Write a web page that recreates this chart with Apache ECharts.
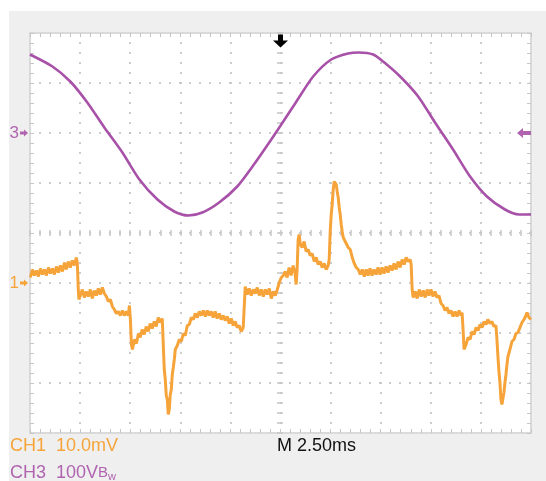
<!DOCTYPE html>
<html>
<head>
<meta charset="utf-8">
<script src="https://cdn.jsdelivr.net/npm/echarts@6/dist/echarts.min.js"></script>
<style>
  html, body { margin: 0; padding: 0; background: #ffffff; }
  #bg { position: absolute; left: 9px; top: 11px; width: 537px; height: 470px; background: #efefef; }
  #chart { position: absolute; left: 0; top: 0; width: 546px; height: 481px; }
</style>
</head>
<body>
<div id="bg"></div>
<div id="chart"></div>
<script>
// Time axis: 0..25 ms (2.50 ms/div, 10 divisions), trigger at 12.5 ms
const timeRange = [0, 25];
const timePerDiv = 2.5;
// CH3 (line voltage, 100 V/div), ground marker "3"
const ch3Range = [-600, 200];
const ch3PerDiv = 100;
// CH1 (10.0 mV/div), ground marker "1"
const ch1Range = [-30, 50];
const ch1PerDiv = 10;

// CH3 samples: [time ms, volts]
const ch3Samples = [
  [0, 157], [1.12, 133], [2.01, 103], [2.86, 61], [3.71, 11], [4.61, -39], [5.46, -93],
  [6.36, -133], [7.20, -157], [7.90, -165], [8.60, -159], [9.44, -139], [10.34, -107],
  [11.19, -62], [12.09, -10], [12.49, 14], [13.28, 62], [14.13, 113], [15.03, 147],
  [15.87, 159], [16.42, 161], [17.12, 157], [17.62, 143], [18.47, 113], [19.37, 73],
  [20.21, 21], [21.11, -33], [21.96, -87], [22.80, -127], [23.70, -153], [24.40, -163], [25.00, -163]
];

// CH1 samples: [time ms, millivolts]
const ch1Samples = [
  [0.02,1.1],[0.12,2.7],[0.22,1.5],[0.32,2.5],[0.42,1.3],[0.52,2.9],[0.62,1.7],[0.72,2.7],[0.82,1.5],[0.92,3.1],
  [1.02,1.9],[1.12,2.9],[1.22,1.7],[1.32,3.3],[1.42,2.1],[1.52,3.5],[1.62,2.3],[1.72,4.1],[1.81,2.7],[1.91,4.3],
  [2.01,3.1],[2.11,4.5],[2.21,3.5],[2.31,5.1],[2.36,4.1],[2.41,-1.3],[2.44,-3.3],
  [2.51,-2.5],[2.61,-1.3],[2.71,-2.9],[2.81,-1.7],[2.91,-2.7],[3.01,-1.3],[3.11,-3.1],[3.21,-1.5],[3.31,-2.5],
  [3.41,-1.1],[3.51,-2.3],[3.61,-0.9],[3.71,-2.1],[3.81,-2.7],[3.91,-3.7],[4.01,-3.3],[4.11,-4.7],[4.21,-5.3],
  [4.31,-6.1],[4.41,-5.7],[4.51,-6.5],[4.61,-5.5],[4.71,-6.5],[4.81,-5.7],[4.91,-6.5],[4.96,-4.5],[5.01,-7.3],
  [5.06,-12.3],[5.11,-13.3],
  [5.21,-11.3],[5.31,-12.1],[5.41,-10.1],[5.50,-10.9],[5.60,-9.3],[5.70,-10.3],[5.80,-8.7],[5.90,-9.7],[6.00,-8.1],
  [6.10,-9.1],[6.20,-7.7],[6.30,-8.7],[6.40,-6.9],[6.50,-7.9],[6.60,-7.1],[6.65,-12.3],[6.70,-17.3],[6.75,-19.3],
  [6.80,-22.5],[6.85,-23.3],[6.90,-26.3],[6.95,-25.3],[7.00,-22.3],[7.05,-21.3],[7.10,-18.3],[7.15,-16.9],
  [7.20,-15.3],[7.25,-13.3],[7.35,-12.5],[7.45,-11.3],[7.55,-11.7],[7.65,-10.1],[7.75,-10.5],[7.85,-8.5],
  [7.95,-8.3],[8.05,-6.9],[8.15,-7.3],[8.25,-6.1],[8.35,-6.9],[8.45,-5.7],[8.55,-6.5],[8.65,-5.5],[8.75,-6.7],
  [8.85,-5.5],[8.94,-6.5],[9.04,-5.7],[9.14,-6.9],[9.24,-5.7],[9.34,-7.1],[9.44,-6.1],[9.54,-7.3],[9.64,-6.5],
  [9.74,-7.5],[9.84,-6.7],[9.94,-8.1],[10.04,-7.1],[10.14,-8.5],[10.24,-7.7],[10.34,-8.9],[10.44,-8.5],
  [10.54,-9.7],[10.64,-8.9],[10.69,-9.3],[10.74,-0.7],
  [10.84,-2.3],[10.94,-1.1],[11.04,-2.5],[11.14,-1.3],[11.24,-2.1],[11.34,-0.9],[11.44,-2.5],[11.54,-1.3],
  [11.64,-2.7],[11.74,-1.3],[11.84,-2.3],[11.94,-1.1],[12.04,-3.1],[12.14,-1.7],[12.24,-2.5],[12.34,-1.3],
  [12.44,0.1],[12.54,1.1],[12.64,1.5],[12.73,2.3],[12.83,1.1],[12.93,3.1],[13.03,1.5],[13.13,3.5],[13.23,1.9],
  [13.28,-0.3],[13.33,2.7],[13.38,8.7],[13.43,9.7],[13.48,7.9],[13.58,7.1],[13.68,8.3],[13.78,6.3],[13.88,6.7],
  [13.98,5.5],[14.08,5.9],[14.18,4.3],[14.28,5.1],[14.38,3.7],[14.48,4.3],[14.58,3.1],[14.68,3.9],[14.78,2.7],
  [14.88,3.5],[14.93,4.7],[14.98,10.3],[15.03,13.7],[15.08,15.7],[15.13,18.7],[15.18,20.3],[15.23,20.7],
  [15.28,19.7],[15.33,18.3],[15.38,17.1],[15.43,15.1],[15.48,13.7],[15.53,11.7],[15.58,10.3],[15.63,9.1],
  [15.68,8.7],[15.78,7.9],[15.88,7.1],[15.98,6.7],[16.08,5.1],[16.18,3.9],[16.28,3.1],[16.38,2.7],[16.48,1.7],
  [16.58,2.7],[16.68,1.3],[16.78,2.7],[16.87,1.5],[16.97,2.9],[17.07,1.5],[17.17,2.7],[17.27,1.7],[17.37,3.1],
  [17.47,1.7],[17.57,3.1],[17.67,1.9],[17.77,3.3],[17.87,2.1],[17.97,3.5],[18.07,2.5],[18.17,3.9],[18.27,2.7],
  [18.37,4.3],[18.47,3.1],[18.57,4.7],[18.67,3.7],[18.77,5.1],[18.87,4.3],[18.97,4.7],[19.02,3.7],[19.07,-1.3],
  [19.12,-2.9],[19.22,-1.7],[19.32,-3.1],[19.42,-1.3],[19.52,-2.7],[19.62,-1.5],[19.72,-2.9],[19.82,-1.3],
  [19.91,-2.5],[20.01,-1.3],[20.11,-2.7],[20.21,-1.7],[20.31,-2.9],[20.41,-2.5],[20.51,-4.1],[20.61,-4.5],
  [20.71,-5.5],[20.81,-4.9],[20.91,-6.1],[21.01,-5.5],[21.11,-6.7],[21.21,-5.7],[21.31,-6.7],[21.41,-5.5],
  [21.51,-6.5],[21.56,-5.9],[21.61,-9.3],[21.66,-13.3],[21.76,-12.3],[21.86,-10.9],[21.96,-11.3],[22.06,-9.7],
  [22.16,-10.3],[22.26,-8.9],[22.36,-9.5],[22.46,-8.3],[22.56,-8.9],[22.66,-7.7],[22.76,-8.3],[22.85,-7.3],
  [22.95,-8.1],[23.05,-7.7],[23.15,-8.7],[23.25,-8.5],[23.30,-11.3],[23.35,-14.7],[23.40,-17.7],[23.45,-19.9],
  [23.50,-23.3],[23.55,-24.3],[23.60,-23.9],[23.65,-21.9],[23.70,-19.9],[23.75,-18.3],[23.80,-16.3],[23.85,-14.7],
  [23.95,-13.3],[24.05,-11.7],[24.15,-11.3],[24.25,-10.1],[24.35,-9.9],[24.45,-8.9],[24.55,-7.9],[24.65,-7.3],
  [24.75,-6.5],[24.80,-5.9],[24.90,-6.9],[25.00,-7.3]
];

// Readout texts
const ch1Label = 'CH1  10.0mV';
const ch3Label = 'CH3  100V';
const timebaseLabel = 'M 2.50ms';
const triggerTime = 12.5;
const triggerLevel = 0;

const ORANGE = '#f6a43a';
const PURPLE = '#a851a8';
const PURPLE_TXT = '#b064b0';
const TICK = '#c6c6c6';
const FONT = '"Liberation Sans", Arial, sans-serif';

const chart = echarts.init(document.getElementById('chart'), null, { renderer: 'canvas' });

function frameAxis(extra) {
  return Object.assign({
    type: 'value',
    axisLabel: { show: false },
    axisLine: { show: true, onZero: false, lineStyle: { color: '#dadada', width: 2 } },
    axisTick: { show: true, inside: true, length: 4, lineStyle: { color: TICK, width: 1 } },
    minorTick: { show: true, splitNumber: 5, length: 4, lineStyle: { color: TICK, width: 1 } },
    splitLine: { show: false },
    minorSplitLine: { show: false }
  }, extra);
}
function centerAxis(extra, inside) {
  return Object.assign({
    type: 'value',
    axisLabel: { show: false },
    axisLine: { show: false, onZero: false },
    axisTick: { show: true, inside: inside, length: 3, lineStyle: { color: TICK, width: 1.5 } },
    minorTick: { show: true, splitNumber: 5, length: 3, lineStyle: { color: TICK, width: 1.5 } },
    splitLine: { show: false }
  }, extra);
}
const dotted = { show: true, lineStyle: { type: [2, 8], dashOffset: 1, color: '#bdbdbd', width: 1.5 } };

const arrowRight = 'path://M0,3 L5,3 L5,0 L10,5 L5,10 L5,7 L0,7 Z';
const arrowLeft = 'path://M0,5 L6,0 L6,3 L14,3 L14,7 L6,7 L6,10 Z';
const arrowDown = 'path://M5,0 L10,0 L10,6 L15,6 L7.5,13 L0,6 L5,6 Z';

const option = {
  animation: false,
  backgroundColor: 'transparent',
  grid: { left: 30, top: 33, width: 501, height: 400, show: true, backgroundColor: '#ffffff', borderWidth: 0 },
  title: [
    { text: ch1Label, left: 10, top: 437, padding: 0,
      textStyle: { color: ORANGE, fontSize: 18, fontWeight: 'normal', fontFamily: FONT } },
    { text: timebaseLabel, left: 277, top: 437, padding: 0,
      textStyle: { color: '#111111', fontSize: 18, fontWeight: 'normal', fontFamily: FONT } },
    { text: '{a|' + ch3Label + '}{b|B}{c|w}', left: 10, top: 464, padding: 0,
      textStyle: { fontWeight: 'normal', rich: {
        a: { color: PURPLE_TXT, fontSize: 18, fontWeight: 'normal', fontFamily: FONT },
        b: { color: PURPLE_TXT, fontSize: 15, fontWeight: 'normal', fontFamily: FONT },
        c: { color: PURPLE_TXT, fontSize: 11, fontWeight: 'normal', fontFamily: FONT, verticalAlign: 'bottom', padding: [6, 0, 0, 0] }
      } } }
  ],
  xAxis: [
    frameAxis({ min: timeRange[0], max: timeRange[1], interval: timePerDiv, position: 'bottom', splitLine: dotted }),
    frameAxis({ min: timeRange[0], max: timeRange[1], interval: timePerDiv, position: 'top' }),
    centerAxis({ min: timeRange[0], max: timeRange[1], interval: timePerDiv, position: 'bottom', offset: -200 }, true),
    centerAxis({ min: timeRange[0], max: timeRange[1], interval: timePerDiv, position: 'bottom', offset: -200 }, false)
  ],
  yAxis: [
    frameAxis({ min: ch3Range[0], max: ch3Range[1], interval: ch3PerDiv, position: 'left', splitLine: dotted }),
    frameAxis({ min: ch1Range[0], max: ch1Range[1], interval: ch1PerDiv, position: 'right' }),
    centerAxis({ min: ch3Range[0], max: ch3Range[1], interval: ch3PerDiv, position: 'left', offset: -250 }, true),
    centerAxis({ min: ch3Range[0], max: ch3Range[1], interval: ch3PerDiv, position: 'left', offset: -250 }, false)
  ],
  series: [
    {
      name: 'CH3', type: 'line', xAxisIndex: 0, yAxisIndex: 0, data: ch3Samples,
      showSymbol: false, symbol: 'none', smooth: 0.25,
      lineStyle: { color: PURPLE, width: 2.6 },
      z: 3,
      markPoint: {
        silent: true, animation: false,
        data: [
          { coord: [timeRange[0], 0], symbol: arrowRight, symbolSize: [8, 7], symbolOffset: [-6, 0],
            itemStyle: { color: PURPLE_TXT },
            label: { show: true, position: 'left', distance: 1, formatter: '3', color: PURPLE_TXT, fontSize: 17, fontFamily: FONT } },
          { coord: [timeRange[1], triggerLevel], symbol: arrowLeft, symbolSize: [14, 10], symbolOffset: [-7, 0],
            itemStyle: { color: PURPLE_TXT }, label: { show: false } },
          { coord: [triggerTime, ch3Range[1]], symbol: arrowDown, symbolSize: [15, 13], symbolOffset: [0, 8],
            itemStyle: { color: '#000000' }, label: { show: false } }
        ]
      }
    },
    {
      name: 'CH1', type: 'line', xAxisIndex: 0, yAxisIndex: 1, data: ch1Samples,
      showSymbol: false, symbol: 'none',
      lineStyle: { color: ORANGE, width: 3 },
      z: 4,
      markPoint: {
        silent: true, animation: false,
        data: [
          { coord: [timeRange[0], 0], symbol: arrowRight, symbolSize: [8, 7], symbolOffset: [-6, 0],
            itemStyle: { color: ORANGE },
            label: { show: true, position: 'left', distance: 1, formatter: '1', color: ORANGE, fontSize: 17, fontFamily: FONT } }
        ]
      }
    }
  ]
};
chart.setOption(option);
</script>
</body>
</html>
